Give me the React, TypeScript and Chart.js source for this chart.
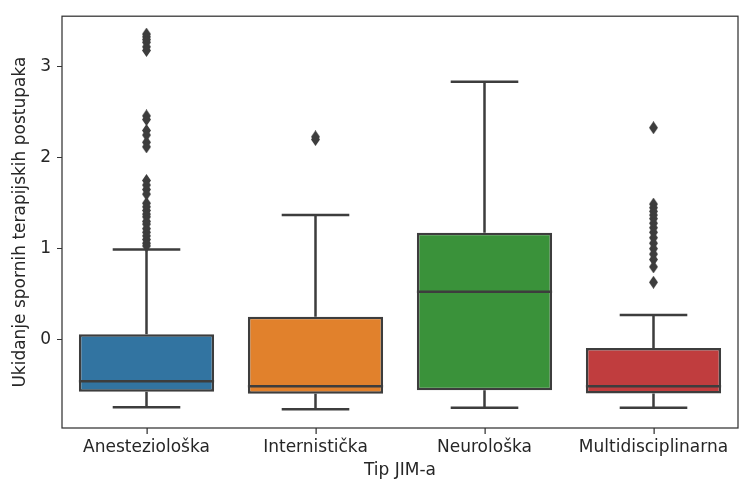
import React, { useEffect, useRef } from 'react';
import { Chart, registerables } from 'chart.js';

Chart.register(...registerables);

const categories = ['Anesteziološka', 'Internistička', 'Neurološka', 'Multidisciplinarna'];
const q1 = [-0.575, -0.597, -0.557, -0.593];
const medians = [-0.459, -0.514, 0.525, -0.514];
const q3 = [0.059, 0.251, 1.174, -0.094];
const whiskerLow = [-0.746, -0.768, -0.75, -0.75];
const whiskerHigh = [0.991, 1.37, 2.836, 0.27];
const outliersAnest = [3.36, 3.33, 3.3, 3.27, 3.22, 3.18, 2.46, 2.42, 2.3, 2.25, 2.17, 2.12, 1.75, 1.7, 1.65, 1.6, 1.5, 1.46, 1.42, 1.38, 1.35, 1.3, 1.27, 1.22, 1.18, 1.14, 1.1, 1.06, 1.03];
const outliersIntern = [2.2, 2.23];
const outliersNeuro: number[] = [];
const outliersMulti = [2.33, 1.49, 1.45, 1.41, 1.37, 1.33, 1.28, 1.23, 1.18, 1.12, 1.06, 1.0, 0.94, 0.88, 0.8, 0.63];
const boxColors = ['#3274a1', '#e1812c', '#3a923a', '#c03d3e'];
const yTicks = [0, 1, 2, 3];
const yMin = -0.973;
const yMax = 3.557;

const LINE = '#3d3d3d';
const FONT = 'DejaVu Sans';

function makeDiamond(w: number, h: number, color: string) {
  const c = document.createElement('canvas');
  c.width = w;
  c.height = h;
  const ctx = c.getContext('2d')!;
  ctx.fillStyle = color;
  ctx.beginPath();
  ctx.moveTo(w / 2, 0);
  ctx.lineTo(w, h / 2);
  ctx.lineTo(w / 2, h);
  ctx.lineTo(0, h / 2);
  ctx.closePath();
  ctx.fill();
  return c;
}

export default function App() {
  const ref = useRef<HTMLCanvasElement | null>(null);

  useEffect(() => {
    document.body.style.margin = '0';
    const canvas = ref.current;
    if (!canvas) return;
    const diamond = makeDiamond(9, 13, LINE);
    const outlierGroups = [outliersAnest, outliersIntern, outliersNeuro, outliersMulti];
    const outlierData = outlierGroups.flatMap((arr, i) => arr.map((v) => ({ x: categories[i], y: v })));

    const whiskerPlugin = {
      id: 'whiskers',
      afterDatasetsDraw(chart: any) {
        const ctx = chart.ctx;
        const xs = chart.scales.x;
        const ys = chart.scales.y;
        const meta = chart.getDatasetMeta(0);
        ctx.save();
        ctx.strokeStyle = LINE;
        ctx.lineWidth = 2.5;
        ctx.lineCap = 'butt';
        categories.forEach((_, i) => {
          const cx = xs.getPixelForValue(i);
          const bw = meta.data[i].width;
          const capHalf = bw / 4;
          const yq1 = ys.getPixelForValue(q1[i]);
          const yq3 = ys.getPixelForValue(q3[i]);
          const ylo = ys.getPixelForValue(whiskerLow[i]);
          const yhi = ys.getPixelForValue(whiskerHigh[i]);
          const ymed = ys.getPixelForValue(medians[i]);
          ctx.beginPath();
          ctx.moveTo(cx, yq3);
          ctx.lineTo(cx, yhi);
          ctx.moveTo(cx, yq1);
          ctx.lineTo(cx, ylo);
          ctx.moveTo(cx - capHalf, yhi);
          ctx.lineTo(cx + capHalf, yhi);
          ctx.moveTo(cx - capHalf, ylo);
          ctx.lineTo(cx + capHalf, ylo);
          ctx.moveTo(cx - bw / 2, ymed);
          ctx.lineTo(cx + bw / 2, ymed);
          ctx.stroke();
        });
        ctx.restore();
      },
      afterDraw(chart: any) {
        const { ctx, chartArea } = chart;
        const xs = chart.scales.x;
        ctx.save();
        ctx.strokeStyle = '#333333';
        ctx.lineWidth = 1.25;
        ctx.strokeRect(chartArea.left, chartArea.top, chartArea.right - chartArea.left, chartArea.bottom - chartArea.top);
        ctx.fillStyle = '#333333';
        categories.forEach((_, i) => {
          const x = Math.round(xs.getPixelForValue(i));
          ctx.fillRect(x - 0.5, chartArea.bottom, 1.25, 6);
        });
        ctx.restore();
      },
    };

    const chart = new Chart(canvas, {
      type: 'bar',
      data: {
        labels: categories,
        datasets: [
          {
            type: 'bar',
            data: categories.map((_, i) => [q1[i], q3[i]]),
            backgroundColor: boxColors,
            borderColor: LINE,
            borderWidth: 2.5,
            borderSkipped: false,
            barPercentage: 0.8,
            categoryPercentage: 1,
          } as any,
          {
            type: 'line',
            data: outlierData as any,
            showLine: false,
            pointStyle: diamond as any,
            pointRadius: 5,
            backgroundColor: LINE,
            borderColor: LINE,
          } as any,
        ],
      },
      options: {
        animation: false,
        responsive: false,
        maintainAspectRatio: false,
        layout: { padding: { left: 0, top: 14, right: 6, bottom: 0 } },
        plugins: { legend: { display: false }, tooltip: { enabled: false } },
        scales: {
          x: {
            type: 'category',
            offset: true,
            grid: { display: false, drawTicks: false, tickLength: 5 },
            border: { display: false },
            ticks: { color: '#262626', font: { family: FONT, size: 17 }, padding: 9, maxRotation: 0 },
            title: { display: true, text: 'Tip JIM-a', color: '#262626', font: { family: FONT, size: 17 }, padding: { top: 0, bottom: 4 } },
            afterFit: (s: any) => { s.height = 57; },
          },
          y: {
            type: 'linear',
            min: yMin,
            max: yMax,
            afterBuildTicks: (s: any) => { s.ticks = yTicks.map((v) => ({ value: v })); },
            grid: { display: true, drawOnChartArea: false, drawTicks: true, tickLength: 5, color: '#333333', lineWidth: 1 },
            border: { display: false },
            ticks: { color: '#262626', font: { family: FONT, size: 17 }, padding: 6 },
            title: { display: true, text: 'Ukidanje spornih terapijskih postupaka', color: '#262626', font: { family: FONT, size: 17 }, padding: { top: 10, bottom: 0 } },
            afterFit: (s: any) => { s.width = 62; },
          },
        },
      },
      plugins: [whiskerPlugin],
    });
    return () => chart.destroy();
  }, []);

  return (
    <div style={{ width: 744, height: 485 }}>
      <canvas ref={ref} width={744} height={485} style={{ display: 'block' }} />
    </div>
  );
}
